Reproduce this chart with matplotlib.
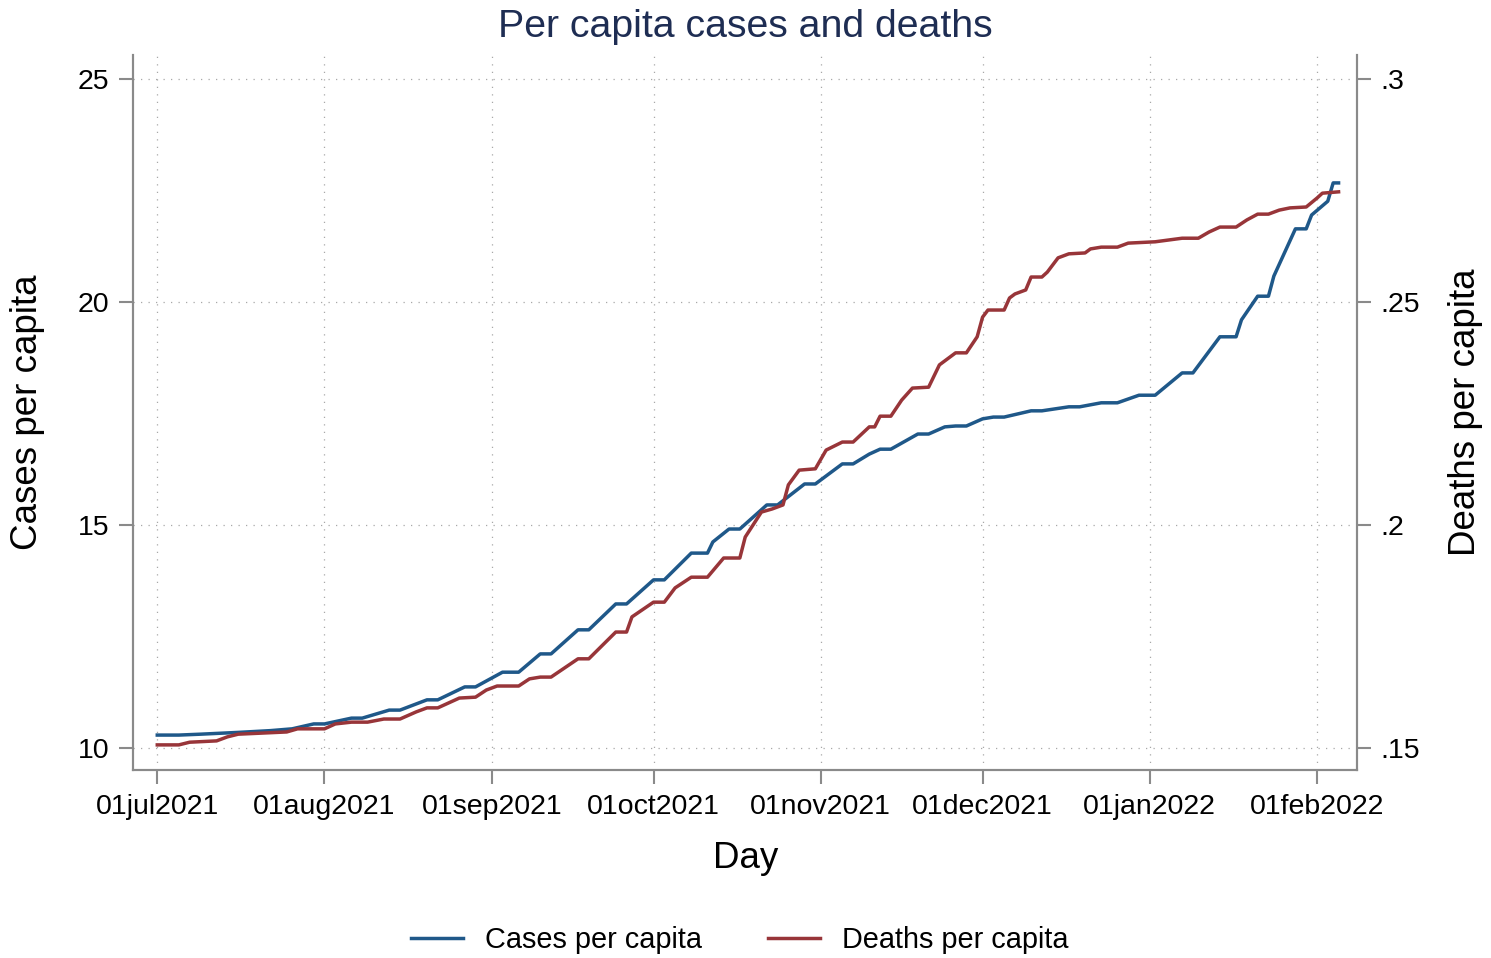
import numpy as np
import matplotlib
matplotlib.use("Agg")
import matplotlib.pyplot as plt

# ---------------- data ----------------
case_dates = ["2021-07-01", "2021-07-05", "2021-07-09", "2021-07-16", "2021-07-22", "2021-07-26",
              "2021-07-30", "2021-08-01", "2021-08-06", "2021-08-08", "2021-08-13", "2021-08-15",
              "2021-08-20", "2021-08-22", "2021-08-27", "2021-08-29", "2021-09-03", "2021-09-06",
              "2021-09-10", "2021-09-12", "2021-09-17", "2021-09-19", "2021-09-24", "2021-09-26",
              "2021-10-01", "2021-10-03", "2021-10-08", "2021-10-11", "2021-10-12", "2021-10-15",
              "2021-10-17", "2021-10-22", "2021-10-24", "2021-10-29", "2021-10-31", "2021-11-05",
              "2021-11-07", "2021-11-10", "2021-11-12", "2021-11-14", "2021-11-19", "2021-11-21",
              "2021-11-24", "2021-11-26", "2021-11-28", "2021-12-01", "2021-12-03", "2021-12-05",
              "2021-12-10", "2021-12-12", "2021-12-17", "2021-12-19", "2021-12-23", "2021-12-26",
              "2021-12-30", "2022-01-02", "2022-01-07", "2022-01-09", "2022-01-14", "2022-01-17",
              "2022-01-18", "2022-01-21", "2022-01-23", "2022-01-24", "2022-01-28", "2022-01-30",
              "2022-01-31", "2022-02-03", "2022-02-04", "2022-02-05"]
cases_per_capita = [10.29, 10.29, 10.31, 10.35, 10.39, 10.43, 10.54, 10.54, 10.67, 10.67,
                    10.85, 10.85, 11.08, 11.08, 11.37, 11.37, 11.70, 11.70, 12.11, 12.11,
                    12.65, 12.65, 13.23, 13.23, 13.77, 13.77, 14.37, 14.37, 14.62, 14.91,
                    14.91, 15.45, 15.45, 15.92, 15.92, 16.37, 16.37, 16.59, 16.70, 16.70,
                    17.04, 17.04, 17.20, 17.22, 17.22, 17.38, 17.42, 17.42, 17.56, 17.56,
                    17.65, 17.65, 17.74, 17.74, 17.91, 17.91, 18.41, 18.41, 19.22, 19.22,
                    19.60, 20.13, 20.13, 20.58, 21.64, 21.64, 21.95, 22.26, 22.67, 22.67]

death_dates = ["2021-07-01", "2021-07-05", "2021-07-07", "2021-07-12", "2021-07-14", "2021-07-16",
               "2021-07-25", "2021-07-27", "2021-08-01", "2021-08-03", "2021-08-06", "2021-08-09",
               "2021-08-12", "2021-08-15", "2021-08-18", "2021-08-20", "2021-08-22", "2021-08-26",
               "2021-08-29", "2021-08-31", "2021-09-02", "2021-09-06", "2021-09-08", "2021-09-10",
               "2021-09-12", "2021-09-17", "2021-09-19", "2021-09-24", "2021-09-26", "2021-09-27",
               "2021-10-01", "2021-10-03", "2021-10-05", "2021-10-08", "2021-10-11", "2021-10-14",
               "2021-10-17", "2021-10-18", "2021-10-21", "2021-10-23", "2021-10-25", "2021-10-26",
               "2021-10-28", "2021-10-31", "2021-11-02", "2021-11-05", "2021-11-07", "2021-11-10",
               "2021-11-11", "2021-11-12", "2021-11-14", "2021-11-16", "2021-11-18", "2021-11-21",
               "2021-11-23", "2021-11-24", "2021-11-26", "2021-11-28", "2021-11-30", "2021-12-01",
               "2021-12-02", "2021-12-05", "2021-12-06", "2021-12-07", "2021-12-09", "2021-12-10",
               "2021-12-12", "2021-12-13", "2021-12-15", "2021-12-17", "2021-12-20", "2021-12-21",
               "2021-12-23", "2021-12-26", "2021-12-28", "2022-01-02", "2022-01-07", "2022-01-10",
               "2022-01-12", "2022-01-14", "2022-01-17", "2022-01-19", "2022-01-21", "2022-01-23",
               "2022-01-25", "2022-01-27", "2022-01-30", "2022-02-01", "2022-02-02", "2022-02-05"]
deaths_per_capita = [0.1507, 0.1507, 0.1513, 0.1516, 0.1525, 0.1531, 0.1536, 0.1543, 0.1543, 0.1554,
                     0.1558, 0.1558, 0.1565, 0.1565, 0.1581, 0.1590, 0.1590, 0.1612, 0.1614, 0.1630,
                     0.1639, 0.1639, 0.1655, 0.1659, 0.1659, 0.1700, 0.1700, 0.1760, 0.1760, 0.1794,
                     0.1827, 0.1827, 0.1859, 0.1883, 0.1883, 0.1926, 0.1926, 0.1973, 0.2029, 0.2036,
                     0.2045, 0.2090, 0.2123, 0.2126, 0.2168, 0.2186, 0.2186, 0.2220, 0.2220, 0.2244,
                     0.2244, 0.2280, 0.2307, 0.2309, 0.2359, 0.2368, 0.2386, 0.2386, 0.2422, 0.2466,
                     0.2482, 0.2482, 0.2509, 0.2518, 0.2527, 0.2556, 0.2556, 0.2567, 0.2599, 0.2608,
                     0.2610, 0.2619, 0.2623, 0.2623, 0.2632, 0.2635, 0.2643, 0.2643, 0.2657, 0.2668,
                     0.2668, 0.2684, 0.2697, 0.2697, 0.2706, 0.2711, 0.2713, 0.2733, 0.2744, 0.2747]

x_tick_dates = ["2021-07-01", "2021-08-01", "2021-09-01", "2021-10-01",
                "2021-11-01", "2021-12-01", "2022-01-01", "2022-02-01"]
x_tick_labels = ["01jul2021", "01aug2021", "01sep2021", "01oct2021",
                 "01nov2021", "01dec2021", "01jan2022", "01feb2022"]
left_ticks = [10, 15, 20, 25]
left_labels = ["10", "15", "20", "25"]
right_ticks = [0.15, 0.20, 0.25, 0.30]
right_labels = [".15", ".2", ".25", ".3"]

# ---------------- style ----------------
plt.rcParams['font.family'] = ['Liberation Sans', 'DejaVu Sans']
BLUE = "#1f5889"
RED = "#983539"
TITLE_C = "#1e2d53"
SPINE_C = "#8a8a8a"
GRID_C = "#a8a8a8"
TICK_FS = 20.5
LABEL_FS = 26.5

W, H = 1491, 958
fig = plt.figure(figsize=(W / 100, H / 100), dpi=100)
ax = fig.add_axes([133 / W, 1 - 770 / H, (1357 - 133) / W, (770 - 55) / H])
ax2 = ax.twinx()

cd = np.array(case_dates, dtype="datetime64[D]")
dd = np.array(death_dates, dtype="datetime64[D]")
l1, = ax.plot(cd, cases_per_capita, color=BLUE, lw=2.5, label="Cases per capita", zorder=3)
l2, = ax2.plot(dd, deaths_per_capita, color=RED, lw=2.5, label="Deaths per capita", zorder=3)

xt = np.array(x_tick_dates, dtype="datetime64[D]")
ax.set_xlim(np.datetime64("2021-06-26") + np.timedelta64(12, "h"),
            np.datetime64("2022-02-08") + np.timedelta64(10, "h"))
ax.set_xticks(xt)
ax.set_xticklabels(x_tick_labels)
ax.set_ylim(9.507, 25.538)
ax.set_yticks(left_ticks)
ax.set_yticklabels(left_labels)
ax2.set_ylim(0.14507, 0.30538)
ax2.set_yticks(right_ticks)
ax2.set_yticklabels(right_labels)

ax.grid(True, which="major", color=GRID_C, linestyle=(0, (1, 5)), linewidth=0.9)
ax.set_axisbelow(True)

for a in (ax, ax2):
    a.spines["top"].set_visible(False)
    for s in ("left", "right", "bottom"):
        a.spines[s].set_color(SPINE_C)
        a.spines[s].set_linewidth(1.5)
ax.tick_params(axis="both", direction="out", length=10, width=1.5, color=SPINE_C,
               labelsize=TICK_FS, pad=7, labelcolor="black")
ax2.tick_params(axis="y", direction="out", length=10, width=1.5, color=SPINE_C,
                labelsize=TICK_FS, pad=7, labelcolor="black")

ax.set_ylabel("Cases per capita", fontsize=LABEL_FS)
ax.yaxis.set_label_coords(-0.072, 0.5)
ax2.set_ylabel("Deaths per capita", fontsize=LABEL_FS, rotation=90)
ax2.yaxis.set_label_coords(1.0743, 0.5)
ax.set_xlabel("Day", fontsize=LABEL_FS)
ax.xaxis.set_label_coords(0.5008, -0.099)

fig.text(745 / W, 1 - 27 / H, "Per capita cases and deaths", fontsize=28.3,
         color=TITLE_C, ha="center", va="center")

fig.legend(handles=[l1, l2], loc="center", bbox_to_anchor=(740 / W, 1 - 940 / H),
           ncol=2, frameon=False, fontsize=20.8, handlelength=1.8,
           handletextpad=0.75, columnspacing=2.3)

fig.savefig("out.png", dpi=100, facecolor="white")
